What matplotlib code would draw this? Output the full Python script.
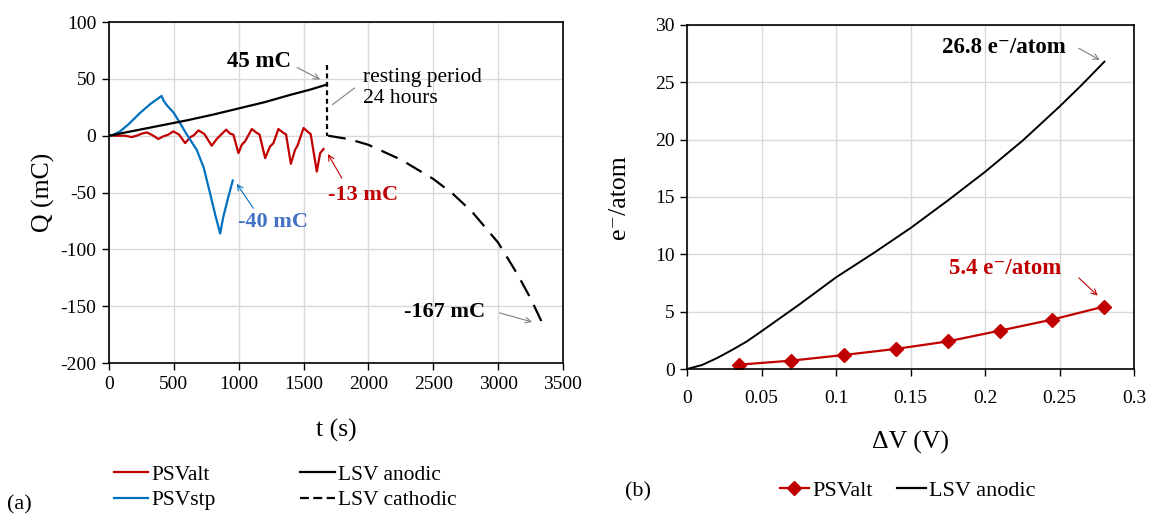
import matplotlib
matplotlib.use("Agg")
import matplotlib.pyplot as plt
from matplotlib.lines import Line2D
from matplotlib.ticker import FormatStrFormatter

plt.rcParams['font.family'] = ['Liberation Serif', 'DejaVu Serif']
plt.rcParams['axes.unicode_minus'] = False

#---------------- data (a) ----------------
#PSValt
t_alt = [0, 60, 123, 175, 213, 252, 291, 330, 381, 420, 455, 496, 540, 587, 625, 655,
         690, 735, 792, 830, 860, 903, 934, 959, 998, 1024, 1049, 1101, 1140, 1160,
         1204, 1242, 1268, 1306, 1345, 1365, 1402, 1435, 1453, 1500, 1538, 1555,
         1602, 1628, 1654]
q_alt = [0, 0, 0, -1.2, 0, 1.8, 2.9, 0.8, -2.9, -0.5, 0.8, 3.8, 1.0, -6.5, -1.5, 0.5,
         4.7, 1.5, -8.8, -3.0, 0.5, 5.3, 1.8, 0.9, -15.3, -7.9, -5.0, 5.9, 2.4, 1.2,
         -19.7, -9.4, -6.5, 5.9, 2.4, 1.2, -24.7, -12.3, -8.8, 6.8, 2.9, 1.5,
         -31.5, -15.3, -11.7]
#PSVstp
t_stp = [0, 30, 85, 150, 239, 320, 406, 420, 445, 500, 548, 600, 676, 730, 779, 820,
         857, 880, 921, 954]
q_stp = [0, 0.5, 3.8, 10, 20, 28, 35, 31, 27, 20, 11, 1, -12.3, -28, -50.5, -70,
         -86, -72, -53.5, -39.4]
#LSV anodic
t_an = [0, 200, 400, 600, 800, 1000, 1200, 1400, 1550, 1680]
q_an = [0, 4.5, 9, 13.5, 18.5, 24, 29.5, 36, 40.5, 45]
#resting period (vertical marker)
t_rest = [1680, 1680]
q_rest = [62, 0]
#LSV cathodic
t_cat = [1690, 1850, 2000, 2250, 2500, 2650, 2800, 3000, 3150, 3250, 3350]
q_cat = [0, -3, -8, -21, -38, -51, -67, -94, -122, -143, -167]

#---------------- data (b) ----------------
dv_alt = [0.035, 0.07, 0.105, 0.14, 0.175, 0.21, 0.245, 0.28]
e_alt = [0.38, 0.73, 1.22, 1.75, 2.41, 3.35, 4.31, 5.45]
dv_an = [0, 0.01, 0.02, 0.03, 0.04, 0.05, 0.075, 0.1, 0.125, 0.15, 0.175, 0.2,
         0.225, 0.25, 0.265, 0.28]
e_an = [0, 0.35, 0.95, 1.65, 2.4, 3.3, 5.6, 8.0, 10.1, 12.3, 14.7, 17.2,
        19.9, 22.9, 24.8, 26.8]

red = '#C00000'
blue = '#0070C0'
blue_txt = '#4472C4'
grid_c = '#D9D9D9'
arrow_c = '#7F7F7F'

fig = plt.figure(figsize=(11.51, 5.24), dpi=100)

def style_axes(ax):
    ax.grid(True, color=grid_c, linewidth=1.0)
    ax.set_axisbelow(True)
    for s in ax.spines.values():
        s.set_linewidth(1.2)
        s.set_color('black')
    ax.tick_params(direction='out', length=5, width=1.0, labelsize=14, pad=4)

#---------------- panel (a) ----------------
ax1 = fig.add_axes([0.0947, 0.307, 0.3944, 0.651])
style_axes(ax1)
ax1.plot(t_alt, q_alt, color=red, lw=1.6)
ax1.plot(t_stp, q_stp, color=blue, lw=1.6)
ax1.plot(t_an, q_an, color='black', lw=1.6)
ax1.plot(t_rest, q_rest, color='black', lw=1.6, dashes=(2.2, 1.6))
ax1.plot(t_cat, q_cat, color='black', lw=1.6, dashes=(8, 4.5))
ax1.set_xlim(0, 3500)
ax1.set_ylim(-200, 100)
ax1.set_xticks(range(0, 3501, 500))
ax1.set_yticks(range(-200, 101, 50))
ax1.set_xlabel('t (s)', fontsize=18.5, labelpad=19)
ax1.set_ylabel('Q (mC)', fontsize=18.5, labelpad=4)

arr = dict(arrowstyle='->', color=arrow_c, lw=0.8, shrinkA=0, shrinkB=0)
ax1.text(1400, 65, '45 mC', ha='right', va='center', fontsize=16.5, fontweight='bold')
ax1.annotate('', xy=(1628, 49.4), xytext=(1450, 60), arrowprops=arr)
ax1.text(1960, 42, 'resting period\n24 hours', fontsize=15.5, ha='left', va='center',
         linespacing=1.2)
ax1.annotate('', xy=(1705, 25.8), xytext=(1911, 43.5),
             arrowprops=dict(arrowstyle='-', color=arrow_c, lw=0.8))
ax1.text(1690, -52, '-13 mC', color=red, fontsize=16, fontweight='bold', ha='left', va='center')
ax1.annotate('', xy=(1688, -16.1), xytext=(1795, -37.3),
             arrowprops=dict(arrowstyle='->', color=red, lw=0.8, shrinkA=0, shrinkB=0))
ax1.text(995, -75.8, '-40 mC', color=blue_txt, fontsize=16, fontweight='bold', ha='left', va='center')
ax1.annotate('', xy=(985, -42.3), xytext=(1113, -63.8),
             arrowprops=dict(arrowstyle='->', color=blue, lw=0.8, shrinkA=0, shrinkB=0))
ax1.text(2901, -155, '-167 mC', fontsize=16, fontweight='bold', ha='right', va='center')
ax1.annotate('', xy=(3262, -163.8), xytext=(3011, -155.8), arrowprops=arr)

h_a = [Line2D([], [], color=red, lw=1.6), Line2D([], [], color=blue, lw=1.6),
       Line2D([], [], color='black', lw=1.6), Line2D([], [], color='black', lw=1.6, dashes=(4, 2))]
fig.legend(h_a, ['PSValt', 'PSVstp', 'LSV anodic', 'LSV cathodic'], ncol=2,
           loc='center left', bbox_to_anchor=(0.086, 0.07), frameon=False, fontsize=15.5,
           handlelength=1.6, handletextpad=0.15, columnspacing=3.9, labelspacing=0.25,
           borderpad=0.2)
fig.text(0.006, 0.036, '(a)', fontsize=16, va='center', ha='left')

#---------------- panel (b) ----------------
ax2 = fig.add_axes([0.597, 0.2958, 0.3884, 0.6565])
style_axes(ax2)
ax2.tick_params(axis='x', pad=10)
ax2.plot(dv_an, e_an, color='black', lw=1.4)
ax2.plot(dv_alt, e_alt, color=red, lw=1.6, marker='D', markersize=7.5)
ax2.set_xlim(0, 0.3)
ax2.set_ylim(0, 30)
ax2.set_xticks([0, 0.05, 0.1, 0.15, 0.2, 0.25, 0.3])
ax2.set_yticks(range(0, 31, 5))
ax2.xaxis.set_major_formatter(FormatStrFormatter('%g'))
ax2.set_xlabel('ΔV (V)', fontsize=18.5, labelpad=17)
ax2.set_ylabel('e⁻/atom', fontsize=18.5, labelpad=18)

ax2.text(0.171, 28.0, '26.8 e⁻/atom', fontsize=16.5, fontweight='bold',
         ha='left', va='center')
ax2.annotate('', xy=(0.2769, 26.95), xytext=(0.2628, 27.97), arrowprops=arr)
ax2.text(0.1759, 8.77, '5.4 e⁻/atom', color=red, fontsize=16.5, fontweight='bold',
         ha='left', va='center')
ax2.annotate('', xy=(0.2755, 6.4), xytext=(0.2628, 7.95),
             arrowprops=dict(arrowstyle='->', color=red, lw=0.8, shrinkA=0, shrinkB=0))

h_b = [Line2D([], [], color=red, lw=1.6, marker='D', markersize=7),
       Line2D([], [], color='black', lw=1.6)]
fig.legend(h_b, ['PSValt', 'LSV anodic'], ncol=2, loc='center left',
           bbox_to_anchor=(0.664, 0.063), frameon=False, fontsize=16,
           handlelength=1.3, handletextpad=0.15, columnspacing=1.1, borderpad=0.2)
fig.text(0.543, 0.061, '(b)', fontsize=16, va='center', ha='left')

fig.savefig('out.png', dpi=100)
